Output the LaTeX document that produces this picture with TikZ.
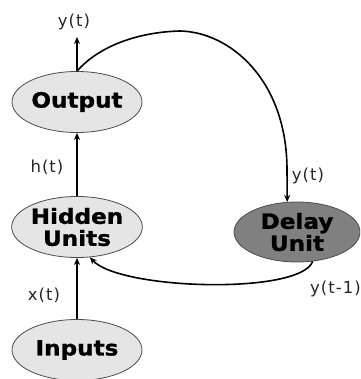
\documentclass[tikz,border=0pt]{standalone}
\usepackage{fontspec}
\setmainfont{DejaVu Sans}
\newfontfamily\boxfont[FakeStretch=1.1,FakeBold=1.2]{DejaVu Sans Bold}
\newfontfamily\lblfont[LetterSpace=6]{DejaVu Sans}
\usetikzlibrary{arrows.meta,shapes.geometric}
\begin{document}
\begin{tikzpicture}[x=1pt,y=-1pt,
  unit/.style={ellipse,draw=black!70,line width=0.8pt,inner sep=0pt,
    minimum width=130pt,minimum height=61pt,fill=black!10,
    font=\boxfont\fontsize{21}{22}\selectfont,align=center},
  dunit/.style={unit,fill=black!50,minimum width=126pt,minimum height=60pt},
  lbl/.style={font=\lblfont\fontsize{16.5}{17}\selectfont,text=black!85,inner sep=0pt},
  vline/.style={line width=2pt,-{Stealth[length=7pt,width=6pt]}},
  cline/.style={line width=1.6pt,-{Stealth[length=7pt,width=6pt]}}]
\clip (0,0) rectangle (360,379);
\fill[white] (0,0) rectangle (360,379);
\node[unit] (out) at (77,102) {Output};
\node[unit] (hid) at (77,227) {Hidden\\Units};
\node[unit] (inp) at (77,350) {Inputs};
\node[dunit] (del) at (297,232) {Delay\\Unit};
\coordinate (ytop) at (77,37);
\coordinate (peak) at (180,31);
\coordinate (side) at (287,170);
\draw[vline] (inp) -- (hid);
\draw[vline] (hid) -- (out);
\draw[vline] (out.north) -- (ytop);
\draw[cline] (out.north) .. controls (100,45) and (140,32) .. (peak)
  .. controls (230,32) and (287,80) .. (side) -- (del.108);
\draw[cline] (del.-62) .. controls (300,295) and (120,290) .. (hid.-67);
\node[lbl] (l1) at (74,22) {y(t)};
\node[lbl] (l2) at (47,167) {h(t)};
\node[lbl] (l3) at (44,295) {x(t)};
\node[lbl] (l4) at (308,176) {y(t)};
\node[lbl,anchor=west] (l5) at (310,289) {y(t-1)};
\end{tikzpicture}
\end{document}
